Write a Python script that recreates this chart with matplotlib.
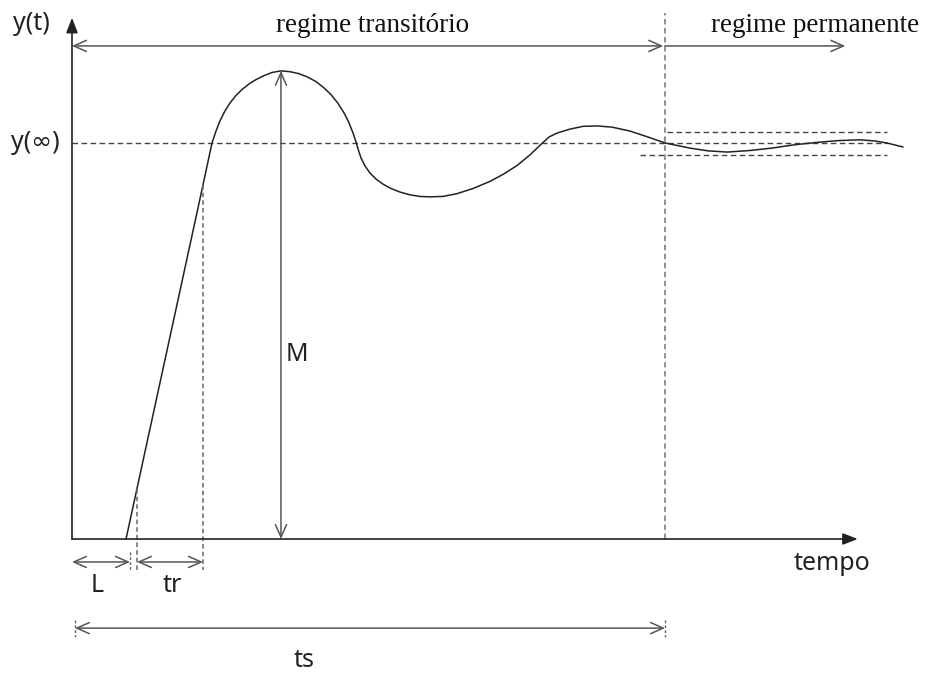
"""
Resposta ao degrau: regime transitório e permanente
"""
import matplotlib
matplotlib.use('Agg')
import matplotlib.pyplot as plt

# tempo (ts = 10) e resposta em % do valor final y(inf)
t = [0.911, 2.209, 2.361, 2.428, 2.496, 2.580, 2.664, 2.766, 2.867, 2.985,
     3.103, 3.238, 3.373, 3.524, 3.676, 3.828, 3.980, 4.115, 4.250, 4.368,
     4.486, 4.587, 4.671, 4.739, 4.789, 4.823, 4.874, 4.941, 5.025, 5.126,
     5.245, 5.379, 5.531, 5.700, 5.868, 6.037, 6.256, 6.492, 6.762, 7.049,
     7.285, 7.504, 7.723, 7.926, 8.044, 8.179, 8.398, 8.617, 8.853, 9.106,
     9.410, 9.713, 10.0, 10.42, 10.73, 11.05, 11.43, 11.80, 12.16, 12.53,
     12.92, 13.29, 13.54, 13.74, 14.01]
y = [0.0, 89.4, 100.0, 103.0, 105.6, 108.1, 110.1, 112.0, 113.5, 114.9,
     116.0, 117.0, 117.8, 118.2, 118.0, 117.5, 116.6, 115.5, 113.9, 112.2,
     110.0, 107.6, 105.1, 102.5, 100.3, 98.5, 96.2, 94.2, 92.4, 90.9,
     89.6, 88.5, 87.6, 86.9, 86.5, 86.4, 86.5, 87.2, 88.5, 90.3,
     92.2, 94.3, 97.0, 99.9, 101.5, 102.5, 103.5, 104.2, 104.3, 104.0,
     103.0, 101.5, 100.0, 98.7, 98.0, 97.7, 98.1, 98.7, 99.5, 100.1,
     100.6, 100.8, 100.5, 100.0, 99.0]

y_final = 100.0
band = [97.0, 102.7]
L = 0.978
tr_ini, tr_fim = 1.096, 2.209
t_pico, M = 3.524, 118.2
ts = 10.0

fig = plt.figure(figsize=(9.25, 6.75), dpi=100)
ax = fig.add_axes([0, 0, 1, 1])
ax.set_xlim(-1.214, 14.384)
ax.set_ylim(-34.34, 136.1)
ax.axis('off')

sans = ['Noto Sans', 'DejaVu Sans']
serif = 'Liberation Serif'
escuro = '#222222'
cinza = '#555555'


def seta(x0, y0, x1, y1, estilo='<->', cor=cinza, lw=1.1):
    ax.annotate('', xy=(x1, y1), xytext=(x0, y0),
                arrowprops=dict(arrowstyle=estilo + ',head_length=0.9,head_width=0.4',
                                color=cor, lw=lw, shrinkA=0, shrinkB=0))


# eixos
ax.annotate('', xy=(13.25, 0), xytext=(0, 0),
            arrowprops=dict(arrowstyle='-|>,head_length=0.9,head_width=0.35',
                            color=escuro, lw=1.2, shrinkA=0, shrinkB=0))
ax.annotate('', xy=(0, 131.6), xytext=(0, 0),
            arrowprops=dict(arrowstyle='-|>,head_length=0.9,head_width=0.35',
                            color=escuro, lw=1.2, shrinkA=0, shrinkB=0))

# valor final e faixa de tolerância
ax.plot([0, 13.74], [y_final, y_final], color='#444444', lw=1.0, ls=(0, (4, 2.5)))
ax.plot([10.03, 13.74], [band[1], band[1]], color='#444444', lw=1.0, ls=(0, (4, 2.5)))
ax.plot([9.58, 13.74], [band[0], band[0]], color='#444444', lw=1.0, ls=(0, (4, 2.5)))

# fronteira entre os regimes
ax.plot([ts, ts], [0, 132.8], color='#888888', lw=1.3, ls=(0, (3, 2)))

# resposta
ax.plot(t, y, color=escuro, lw=1.1)

# linhas auxiliares de L e tr
y_tr = (tr_ini - t[0]) / (t[1] - t[0]) * y[1]
ax.plot([tr_ini, tr_ini], [y_tr, -7.8], color='#666666', lw=1.1, ls=(0, (3, 2)))
ax.plot([tr_fim, tr_fim], [y[1], -7.8], color='#666666', lw=1.1, ls=(0, (3, 2)))
ax.plot([L, L], [-3.3, -7.8], color='#666666', lw=1.0, ls=(0, (2, 1.5)))
ax.plot([0.05, 0.05], [-20.5, -24.7], color='#666666', lw=1.0, ls=(0, (2, 1.5)))
ax.plot([ts, ts], [-20.5, -24.7], color='#666666', lw=1.0, ls=(0, (2, 1.5)))

# setas de cotas
seta(0, 124.5, 9.97, 124.5)
seta(ts, 124.5, 13.04, 124.5, estilo='->')
seta(t_pico, 0, t_pico, M)
seta(0, -5.8, L, -5.8)
seta(tr_ini, -5.8, tr_fim, -5.8)
seta(0.05, -22.5, ts, -22.5)

# textos
fs = 18
ax.text(-0.69, 130.2, 'y(t)', family=sans, fontsize=fs, color=escuro, ha='center', va='center')
ax.text(-0.62, 100, 'y(∞)', family=sans, fontsize=fs, color=escuro, ha='center', va='center')
ax.text(5.06, 129.6, 'regime transitório', family=serif, fontsize=19.5, color='#111111',
        ha='center', va='center')
ax.text(12.53, 129.6, 'regime permanente', family=serif, fontsize=19.5, color='#111111',
        ha='center', va='center')
ax.text(3.60, 46.5, 'M', family=sans, fontsize=fs, color=escuro, ha='left', va='center')
ax.text(0.42, -11.8, 'L', family=sans, fontsize=fs, color=escuro, ha='center', va='center')
ax.text(1.69, -11.8, 'tr', family=sans, fontsize=fs, color=escuro, ha='center', va='center')
ax.text(3.92, -30.6, 'ts', family=sans, fontsize=fs, color=escuro, ha='center', va='center')
ax.text(12.82, -6.1, 'tempo', family=sans, fontsize=fs, color=escuro, ha='center', va='center')

fig.savefig('out.png', dpi=100)
